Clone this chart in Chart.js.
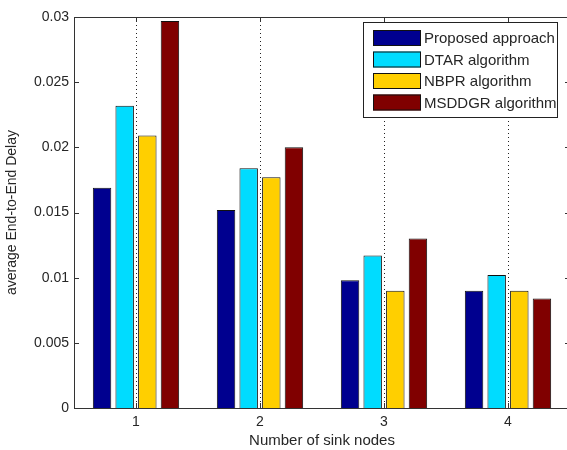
<!DOCTYPE html>
<html>
<head>
<meta charset="utf-8">
<script src="https://cdn.jsdelivr.net/npm/chart.js@4/dist/chart.umd.min.js"></script>
<style>
  html, body { margin: 0; padding: 0; background: #fff; overflow: hidden; }
  #wrap { width: 572px; height: 450px; }
</style>
</head>
<body>
<div id="wrap"><canvas id="myBarChart"></canvas></div>
<script>
// chart values
let labels = ["1", "2", "3", "4"];
let seriesNames = ["Proposed approach", "DTAR algorithm", "NBPR algorithm", "MSDDGR algorithm"];
let proposed = [0.0169, 0.0152, 0.0098, 0.0090];
let dtar = [0.0232, 0.0184, 0.0117, 0.0102];
let nbpr = [0.0209, 0.0177, 0.0090, 0.0090];
let msddgr = [0.0297, 0.0200, 0.0130, 0.0084];
let yTicks = [0, 0.005, 0.01, 0.015, 0.02, 0.025, 0.03];

let colors = ["#00008f", "#00dcff", "#ffcf00", "#800000"];
let FONT = "'Liberation Sans', Arial, sans-serif";
let TXT = "#262626";

// MATLAB-like box, inward ticks and the legend inside the axes
const matlabBox = {
    id: "matlabBox",
    afterDraw(chart) {
        const ctx = chart.ctx;
        const a = chart.chartArea;
        const x = chart.scales.x;
        const y = chart.scales.y;
        ctx.save();
        ctx.strokeStyle = "#333";
        ctx.lineWidth = 1;
        ctx.beginPath();
        ctx.moveTo(a.left + 0.5, a.top + 0.5);
        ctx.lineTo(a.right - 0.5, a.top + 0.5);
        ctx.lineTo(a.right - 0.5, a.bottom);
        ctx.stroke();
        // ticks
        ctx.beginPath();
        yTicks.forEach((v) => {
            const py = Math.round(y.getPixelForValue(v)) + 0.5;
            ctx.moveTo(a.left, py);
            ctx.lineTo(a.left + 5, py);
            ctx.moveTo(a.right, py);
            ctx.lineTo(a.right - 5, py);
        });
        labels.forEach((l, i) => {
            const px = Math.round(x.getPixelForValue(i)) + 0.5;
            ctx.moveTo(px, a.top);
            ctx.lineTo(px, a.top + 5);
            ctx.moveTo(px, a.bottom);
            ctx.lineTo(px, a.bottom - 5);
        });
        ctx.stroke();

        // legend
        const lx = 363, ly = 22, lw = 194, lh = 95;
        ctx.fillStyle = "#fff";
        ctx.fillRect(lx, ly, lw, lh);
        ctx.strokeStyle = "#222";
        ctx.strokeRect(lx + 0.5, ly + 0.5, lw, lh);
        ctx.font = "15px " + FONT;
        ctx.textBaseline = "middle";
        chart.data.datasets.forEach((ds, i) => {
            const cy = ly + 16 + i * 21.5;
            ctx.fillStyle = ds.backgroundColor;
            ctx.fillRect(lx + 10, cy - 8, 48, 16);
            ctx.strokeStyle = "#111";
            ctx.strokeRect(lx + 10.5, cy - 7.5, 47, 15);
            ctx.fillStyle = TXT;
            ctx.fillText(ds.label, lx + 61, cy + 1);
        });
        ctx.restore();
    }
};

new Chart(document.getElementById("myBarChart"), {
    type: "bar",
    data: {
        labels: labels,
        datasets: [proposed, dtar, nbpr, msddgr].map((d, i) => ({
            label: seriesNames[i],
            data: d,
            backgroundColor: colors[i],
            borderColor: "#111",
            borderWidth: 1,
            categoryPercentage: 0.73,
            barPercentage: 0.815
        }))
    },
    options: {
        responsive: true,
        maintainAspectRatio: false,
        animation: false,
        layout: { padding: { top: 17, right: 2, left: 0, bottom: 0 } },
        plugins: {
            legend: { display: false },
            tooltip: { enabled: false }
        },
        scales: {
            x: {
                grid: {
                    display: true,
                    offset: false,
                    drawTicks: false,
                    color: "#222",
                    lineWidth: 1
                },
                border: { display: true, color: "#333", dash: [1, 3] },
                ticks: { color: TXT, font: { family: FONT, size: 14 }, padding: 6 },
                title: {
                    display: true,
                    text: "Number of sink nodes",
                    color: TXT,
                    font: { family: FONT, size: 15 },
                    padding: { top: 0, bottom: 0 }
                },
                afterFit: (s) => { s.height = 42; }
            },
            y: {
                min: 0,
                max: 0.03,
                grid: { display: false, drawTicks: false },
                border: { display: true, color: "#333" },
                ticks: {
                    stepSize: 0.005,
                    color: TXT,
                    font: { family: FONT, size: 14 },
                    padding: 5,
                    callback: (v) => String(+v.toFixed(3))
                },
                title: {
                    display: true,
                    text: "average End-to-End Delay",
                    color: TXT,
                    font: { family: FONT, size: 14 },
                    padding: { top: 4, bottom: 0 }
                },
                afterFit: (s) => { s.width = 74; }
            }
        }
    },
    plugins: [matlabBox]
});
</script>
</body>
</html>
